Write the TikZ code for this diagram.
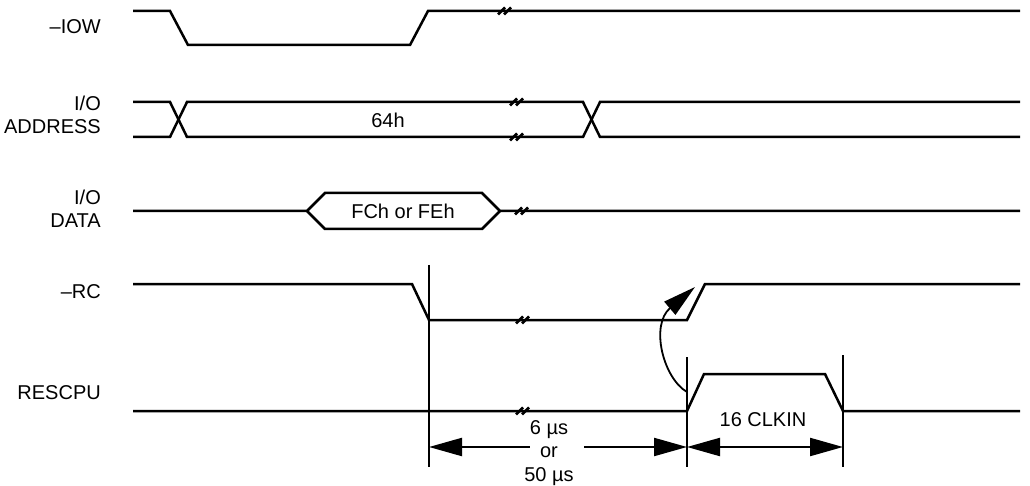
\documentclass[tikz,border=0pt]{standalone}
\usepackage{fontspec}
\setmainfont{Liberation Sans}
\usetikzlibrary{arrows.meta}
\begin{document}
\begin{tikzpicture}[x=1pt,y=-1pt,
  sig/.style={line width=2.5pt, line join=miter},
  lbl/.style={font=\fontsize{20}{23.5}\selectfont, inner sep=0pt},
  vline/.style={line width=2.2pt},
  dimline/.style={line width=2.2pt},
  bigtip/.tip={Triangle[length=33pt,width=18pt]},
  brk/.pic={\draw[line width=2.6pt] (-7,3.5)--(0,-3.5) (-1,3.5)--(6,-3.5);}]
\useasboundingbox (0,0) rectangle (1030,486);

% labels
\node[lbl, anchor=east] (lIOW) at (101,27) {–IOW};
\node[lbl, anchor=east, align=right] (lADDR) at (101,115) {I/O\\ADDRESS};
\node[lbl, anchor=east, align=right] (lDATA) at (101,209) {I/O\\DATA};
\node[lbl, anchor=east] (lRC) at (101,292) {–RC};
\node[lbl, anchor=east] (lRES) at (101,393) {RESCPU};

% -IOW
\draw[sig] (133,11) -- (170,11) -- (188,45) -- (410,45) -- (428,11) -- (1020,11);
\pic at (505,11) {brk};

% I/O ADDRESS
\draw[sig] (133,102) -- (170,102) -- (187,137) -- (583,137) -- (600,102) -- (1020,102);
\draw[sig] (133,137) -- (170,137) -- (187,102) -- (583,102) -- (600,137) -- (1020,137);
\pic at (517,102) {brk};
\pic at (517,137) {brk};
\node[lbl] (t64) at (388,120) {64h};

% I/O DATA
\draw[sig] (133,211) -- (307,211) -- (325,193) -- (482,193) -- (500,211) -- (1020,211);
\draw[sig] (307,211) -- (325,229) -- (482,229) -- (500,211);
\pic at (522,211) {brk};
\node[lbl] (tdata) at (403,211) {FCh or FEh};

% -RC
\draw[sig] (133,284) -- (412,284) -- (429,320) -- (687,320) -- (705,284) -- (1020,284);
\pic at (523,320) {brk};

% RESCPU
\draw[sig] (133,411) -- (687,411) -- (704,374) -- (825,374) -- (843,411) -- (1020,411);
\pic at (523,411) {brk};

% vertical reference lines
\coordinate (v1t) at (429,265);
\coordinate (v1b) at (429,467);
\coordinate (v2t) at (687,357);
\coordinate (v2b) at (687,467);
\coordinate (v3t) at (843,355);
\coordinate (v3b) at (843,467);
\draw[vline] (v1t) -- (v1b);
\draw[vline] (v2t) -- (v2b);
\draw[vline] (v3t) -- (v3b);

% dimension 1
\node[lbl, align=center] (tdim) at (549,453) {6 µs\\or\\50 µs};
\coordinate (d1l) at (429,447);
\coordinate (d1r) at (687,447);
\coordinate (g1) at (530,447);
\coordinate (g2) at (584,447);
\draw[dimline, {bigtip}-] (d1l) -- (g1);
\draw[dimline, -{bigtip}] (g2) -- (d1r);

% dimension 2
\coordinate (d2r) at (843,447);
\draw[dimline, {bigtip}-{bigtip}] (d1r) -- (d2r);
\node[lbl] (tclk) at (763,420) {16 CLKIN};

% causal arrow
\coordinate (cs) at (687,392);
\coordinate (ce) at (695,287);
\draw[line width=1.8pt, -{Triangle[length=33pt,width=17pt]}] (cs) .. controls (663,378) and (650,325) .. (ce);
\end{tikzpicture}
\end{document}
